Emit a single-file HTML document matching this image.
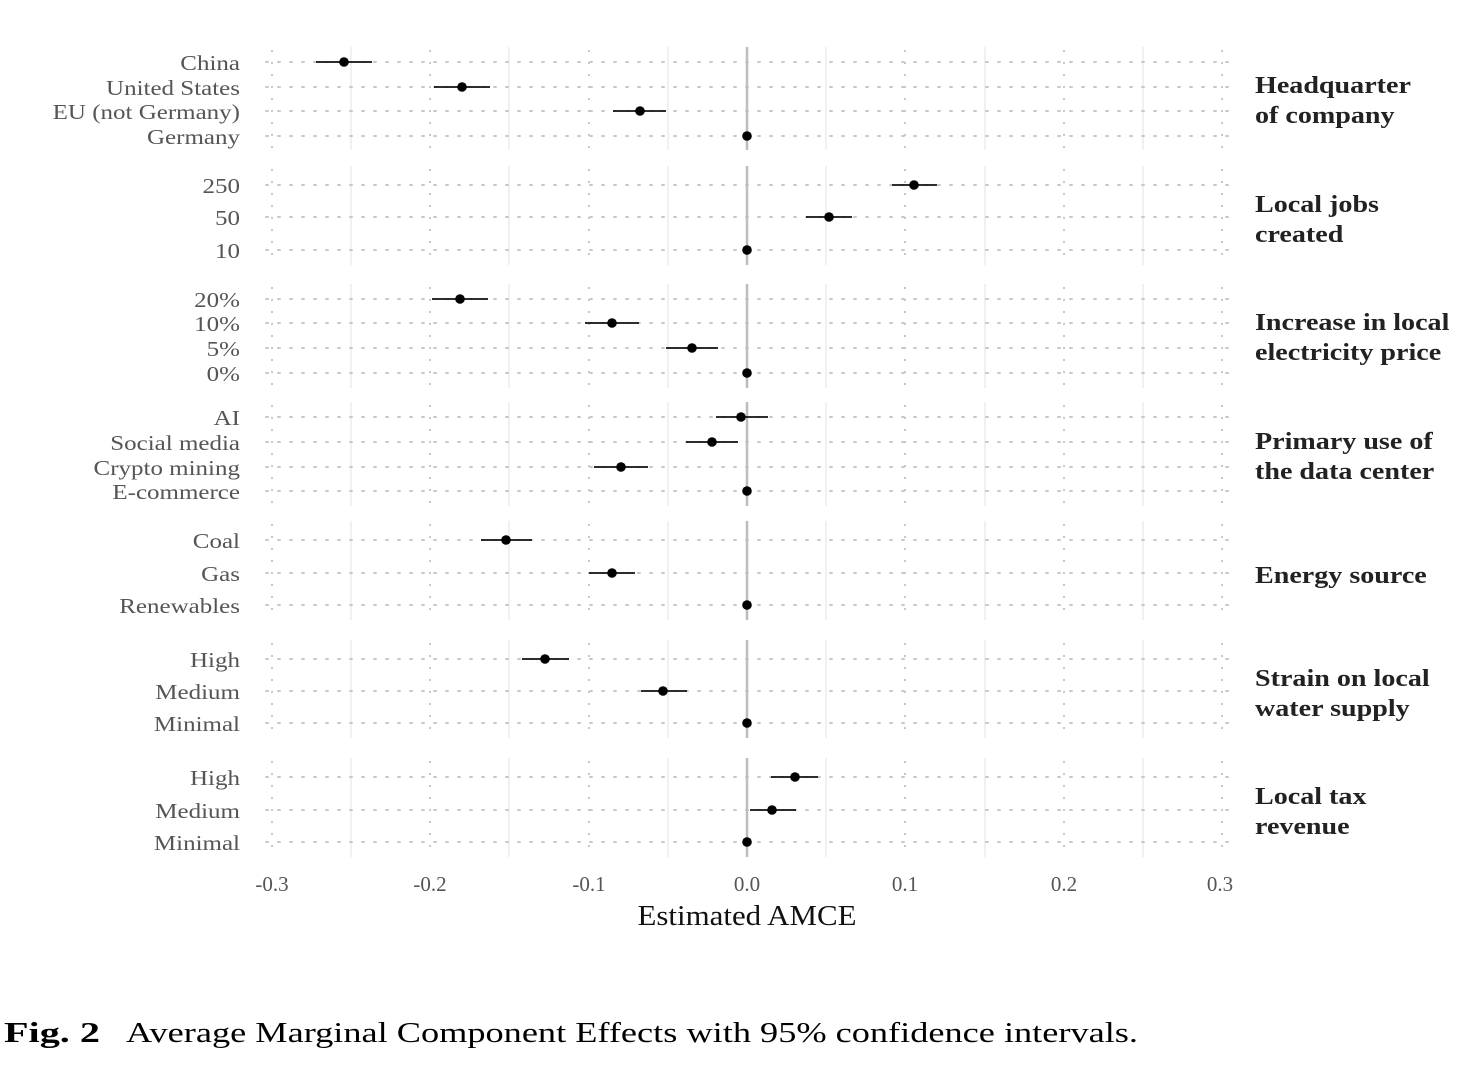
<!DOCTYPE html>
<html><head><meta charset="utf-8"><style>
html,body{margin:0;padding:0;background:#fff;width:1480px;height:1072px;overflow:hidden}
svg{display:block}
.l{font-family:"Liberation Serif",serif;font-size:21px;fill:#555;text-anchor:end}
.s{font-family:"Liberation Serif",serif;font-size:24px;font-weight:bold;fill:#222}
.t{font-family:"Liberation Serif",serif;font-size:21px;fill:#555;text-anchor:middle}
.h{stroke:#c8c8c8;stroke-width:2;stroke-dasharray:2 10;stroke-linecap:round}
.mj{stroke:#c8c8c8;stroke-width:2;stroke-dasharray:2 10}
.mn{stroke:#ececec;stroke-width:1.5}
.z{stroke:#bdbdbd;stroke-width:2.5}
.ci{stroke:#111;stroke-width:1.8}
</style></head><body>
<svg width="1480" height="1072" xmlns="http://www.w3.org/2000/svg">
<g id="panels">
<g>
<line class="mn" x1="351" y1="47" x2="351" y2="150"/><line class="mn" x1="509" y1="47" x2="509" y2="150"/><line class="mn" x1="668" y1="47" x2="668" y2="150"/><line class="mn" x1="826" y1="47" x2="826" y2="150"/><line class="mn" x1="985" y1="47" x2="985" y2="150"/><line class="mn" x1="1143" y1="47" x2="1143" y2="150"/>
<line class="mj" x1="272" y1="50" x2="272" y2="150"/><line class="mj" x1="430" y1="50" x2="430" y2="150"/><line class="mj" x1="589" y1="50" x2="589" y2="150"/><line class="mj" x1="905" y1="50" x2="905" y2="150"/><line class="mj" x1="1064" y1="50" x2="1064" y2="150"/><line class="mj" x1="1222" y1="50" x2="1222" y2="150"/>
<line class="h" x1="266" y1="62" x2="1229" y2="62"/><line class="h" x1="266" y1="87" x2="1229" y2="87"/><line class="h" x1="266" y1="111" x2="1229" y2="111"/><line class="h" x1="266" y1="136" x2="1229" y2="136"/>
<line class="z" x1="747" y1="47" x2="747" y2="150"/>
</g>
<g>
<line class="mn" x1="351" y1="166" x2="351" y2="265"/><line class="mn" x1="509" y1="166" x2="509" y2="265"/><line class="mn" x1="668" y1="166" x2="668" y2="265"/><line class="mn" x1="826" y1="166" x2="826" y2="265"/><line class="mn" x1="985" y1="166" x2="985" y2="265"/><line class="mn" x1="1143" y1="166" x2="1143" y2="265"/>
<line class="mj" x1="272" y1="169" x2="272" y2="265"/><line class="mj" x1="430" y1="169" x2="430" y2="265"/><line class="mj" x1="589" y1="169" x2="589" y2="265"/><line class="mj" x1="905" y1="169" x2="905" y2="265"/><line class="mj" x1="1064" y1="169" x2="1064" y2="265"/><line class="mj" x1="1222" y1="169" x2="1222" y2="265"/>
<line class="h" x1="266" y1="185" x2="1229" y2="185"/><line class="h" x1="266" y1="217" x2="1229" y2="217"/><line class="h" x1="266" y1="250" x2="1229" y2="250"/>
<line class="z" x1="747" y1="166" x2="747" y2="265"/>
</g>
<g>
<line class="mn" x1="351" y1="284" x2="351" y2="388"/><line class="mn" x1="509" y1="284" x2="509" y2="388"/><line class="mn" x1="668" y1="284" x2="668" y2="388"/><line class="mn" x1="826" y1="284" x2="826" y2="388"/><line class="mn" x1="985" y1="284" x2="985" y2="388"/><line class="mn" x1="1143" y1="284" x2="1143" y2="388"/>
<line class="mj" x1="272" y1="287" x2="272" y2="388"/><line class="mj" x1="430" y1="287" x2="430" y2="388"/><line class="mj" x1="589" y1="287" x2="589" y2="388"/><line class="mj" x1="905" y1="287" x2="905" y2="388"/><line class="mj" x1="1064" y1="287" x2="1064" y2="388"/><line class="mj" x1="1222" y1="287" x2="1222" y2="388"/>
<line class="h" x1="266" y1="299" x2="1229" y2="299"/><line class="h" x1="266" y1="323" x2="1229" y2="323"/><line class="h" x1="266" y1="348" x2="1229" y2="348"/><line class="h" x1="266" y1="373" x2="1229" y2="373"/>
<line class="z" x1="747" y1="284" x2="747" y2="388"/>
</g>
<g>
<line class="mn" x1="351" y1="402" x2="351" y2="506"/><line class="mn" x1="509" y1="402" x2="509" y2="506"/><line class="mn" x1="668" y1="402" x2="668" y2="506"/><line class="mn" x1="826" y1="402" x2="826" y2="506"/><line class="mn" x1="985" y1="402" x2="985" y2="506"/><line class="mn" x1="1143" y1="402" x2="1143" y2="506"/>
<line class="mj" x1="272" y1="405" x2="272" y2="506"/><line class="mj" x1="430" y1="405" x2="430" y2="506"/><line class="mj" x1="589" y1="405" x2="589" y2="506"/><line class="mj" x1="905" y1="405" x2="905" y2="506"/><line class="mj" x1="1064" y1="405" x2="1064" y2="506"/><line class="mj" x1="1222" y1="405" x2="1222" y2="506"/>
<line class="h" x1="266" y1="417" x2="1229" y2="417"/><line class="h" x1="266" y1="442" x2="1229" y2="442"/><line class="h" x1="266" y1="467" x2="1229" y2="467"/><line class="h" x1="266" y1="491" x2="1229" y2="491"/>
<line class="z" x1="747" y1="402" x2="747" y2="506"/>
</g>
<g>
<line class="mn" x1="351" y1="521" x2="351" y2="620"/><line class="mn" x1="509" y1="521" x2="509" y2="620"/><line class="mn" x1="668" y1="521" x2="668" y2="620"/><line class="mn" x1="826" y1="521" x2="826" y2="620"/><line class="mn" x1="985" y1="521" x2="985" y2="620"/><line class="mn" x1="1143" y1="521" x2="1143" y2="620"/>
<line class="mj" x1="272" y1="524" x2="272" y2="620"/><line class="mj" x1="430" y1="524" x2="430" y2="620"/><line class="mj" x1="589" y1="524" x2="589" y2="620"/><line class="mj" x1="905" y1="524" x2="905" y2="620"/><line class="mj" x1="1064" y1="524" x2="1064" y2="620"/><line class="mj" x1="1222" y1="524" x2="1222" y2="620"/>
<line class="h" x1="266" y1="540" x2="1229" y2="540"/><line class="h" x1="266" y1="573" x2="1229" y2="573"/><line class="h" x1="266" y1="605" x2="1229" y2="605"/>
<line class="z" x1="747" y1="521" x2="747" y2="620"/>
</g>
<g>
<line class="mn" x1="351" y1="640" x2="351" y2="738"/><line class="mn" x1="509" y1="640" x2="509" y2="738"/><line class="mn" x1="668" y1="640" x2="668" y2="738"/><line class="mn" x1="826" y1="640" x2="826" y2="738"/><line class="mn" x1="985" y1="640" x2="985" y2="738"/><line class="mn" x1="1143" y1="640" x2="1143" y2="738"/>
<line class="mj" x1="272" y1="643" x2="272" y2="738"/><line class="mj" x1="430" y1="643" x2="430" y2="738"/><line class="mj" x1="589" y1="643" x2="589" y2="738"/><line class="mj" x1="905" y1="643" x2="905" y2="738"/><line class="mj" x1="1064" y1="643" x2="1064" y2="738"/><line class="mj" x1="1222" y1="643" x2="1222" y2="738"/>
<line class="h" x1="266" y1="659" x2="1229" y2="659"/><line class="h" x1="266" y1="691" x2="1229" y2="691"/><line class="h" x1="266" y1="723" x2="1229" y2="723"/>
<line class="z" x1="747" y1="640" x2="747" y2="738"/>
</g>
<g>
<line class="mn" x1="351" y1="758" x2="351" y2="857"/><line class="mn" x1="509" y1="758" x2="509" y2="857"/><line class="mn" x1="668" y1="758" x2="668" y2="857"/><line class="mn" x1="826" y1="758" x2="826" y2="857"/><line class="mn" x1="985" y1="758" x2="985" y2="857"/><line class="mn" x1="1143" y1="758" x2="1143" y2="857"/>
<line class="mj" x1="272" y1="761" x2="272" y2="857"/><line class="mj" x1="430" y1="761" x2="430" y2="857"/><line class="mj" x1="589" y1="761" x2="589" y2="857"/><line class="mj" x1="905" y1="761" x2="905" y2="857"/><line class="mj" x1="1064" y1="761" x2="1064" y2="857"/><line class="mj" x1="1222" y1="761" x2="1222" y2="857"/>
<line class="h" x1="266" y1="777" x2="1229" y2="777"/><line class="h" x1="266" y1="810" x2="1229" y2="810"/><line class="h" x1="266" y1="842" x2="1229" y2="842"/>
<line class="z" x1="747" y1="758" x2="747" y2="857"/>
</g>
</g>

<g>
<line class="ci" x1="316" y1="62" x2="372" y2="62"/><line class="ci" x1="434" y1="87" x2="490" y2="87"/><line class="ci" x1="613" y1="111" x2="666" y2="111"/>
<line class="ci" x1="892" y1="185" x2="937" y2="185"/><line class="ci" x1="806" y1="217" x2="852" y2="217"/>
<line class="ci" x1="432" y1="299" x2="488" y2="299"/><line class="ci" x1="585" y1="323" x2="639" y2="323"/><line class="ci" x1="666" y1="348" x2="718" y2="348"/>
<line class="ci" x1="716" y1="417" x2="768" y2="417"/><line class="ci" x1="686" y1="442" x2="738" y2="442"/><line class="ci" x1="594" y1="467" x2="648" y2="467"/>
<line class="ci" x1="481" y1="540" x2="532" y2="540"/><line class="ci" x1="589" y1="573" x2="635" y2="573"/>
<line class="ci" x1="522" y1="659" x2="569" y2="659"/><line class="ci" x1="641" y1="691" x2="687" y2="691"/>
<line class="ci" x1="771" y1="777" x2="818" y2="777"/><line class="ci" x1="750" y1="810" x2="796" y2="810"/>
</g>
<g fill="#000">
<circle cx="344" cy="62" r="4.8"/><circle cx="462" cy="87" r="4.8"/><circle cx="640" cy="111" r="4.8"/><circle cx="747" cy="136" r="4.8"/>
<circle cx="914" cy="185" r="4.8"/><circle cx="829" cy="217" r="4.8"/><circle cx="747" cy="250" r="4.8"/>
<circle cx="460" cy="299" r="4.8"/><circle cx="612" cy="323" r="4.8"/><circle cx="692" cy="348" r="4.8"/><circle cx="747" cy="373" r="4.8"/>
<circle cx="741" cy="417" r="4.8"/><circle cx="712" cy="442" r="4.8"/><circle cx="621" cy="467" r="4.8"/><circle cx="747" cy="491" r="4.8"/>
<circle cx="506" cy="540" r="4.8"/><circle cx="612" cy="573" r="4.8"/><circle cx="747" cy="605" r="4.8"/>
<circle cx="545" cy="659" r="4.8"/><circle cx="663" cy="691" r="4.8"/><circle cx="747" cy="723" r="4.8"/>
<circle cx="795" cy="777" r="4.8"/><circle cx="772" cy="810" r="4.8"/><circle cx="747" cy="842" r="4.8"/>
</g>

<g class="l" transform="translate(240,0) scale(1.19,1) translate(-240,0)">
<text x="240" y="70">China</text><text x="240" y="95">United States</text><text x="240" y="119">EU (not Germany)</text><text x="240" y="144">Germany</text>
<text x="240" y="193">250</text><text x="240" y="225">50</text><text x="240" y="258">10</text>
<text x="240" y="307">20%</text><text x="240" y="331">10%</text><text x="240" y="356">5%</text><text x="240" y="381">0%</text>
<text x="240" y="425">AI</text><text x="240" y="450">Social media</text><text x="240" y="475">Crypto mining</text><text x="240" y="499">E-commerce</text>
<text x="240" y="548">Coal</text><text x="240" y="581">Gas</text><text x="240" y="613">Renewables</text>
<text x="240" y="667">High</text><text x="240" y="699">Medium</text><text x="240" y="731">Minimal</text>
<text x="240" y="785">High</text><text x="240" y="818">Medium</text><text x="240" y="850">Minimal</text>
</g>

<g class="s" transform="translate(1255,0) scale(1.17,1) translate(-1255,0)">
<text x="1255" y="93">Headquarter</text><text x="1255" y="123">of company</text>
<text x="1255" y="212">Local jobs</text><text x="1255" y="242">created</text>
<text x="1255" y="330">Increase in local</text><text x="1255" y="360">electricity price</text>
<text x="1255" y="449">Primary use of</text><text x="1255" y="479">the data center</text>
<text x="1255" y="583">Energy source</text>
<text x="1255" y="686">Strain on local</text><text x="1255" y="716">water supply</text>
<text x="1255" y="804">Local tax</text><text x="1255" y="834">revenue</text>
</g>

<g class="t">
<text x="272" y="891">-0.3</text><text x="430" y="891">-0.2</text><text x="589" y="891">-0.1</text><text x="747" y="891">0.0</text><text x="905" y="891">0.1</text><text x="1064" y="891">0.2</text><text x="1220" y="891">0.3</text>
</g>
<text x="747" y="925" font-family="Liberation Serif, serif" font-size="29" fill="#111" text-anchor="middle" textLength="219" lengthAdjust="spacingAndGlyphs">Estimated AMCE</text>

<text x="4" y="1042" font-family="Liberation Serif, serif" font-size="29" fill="#000" font-weight="bold" textLength="96" lengthAdjust="spacingAndGlyphs">Fig. 2</text>
<text x="126" y="1042" font-family="Liberation Serif, serif" font-size="29" fill="#000" textLength="1012" lengthAdjust="spacingAndGlyphs">Average Marginal Component Effects with 95% confidence intervals.</text>
</svg>
</body></html>
